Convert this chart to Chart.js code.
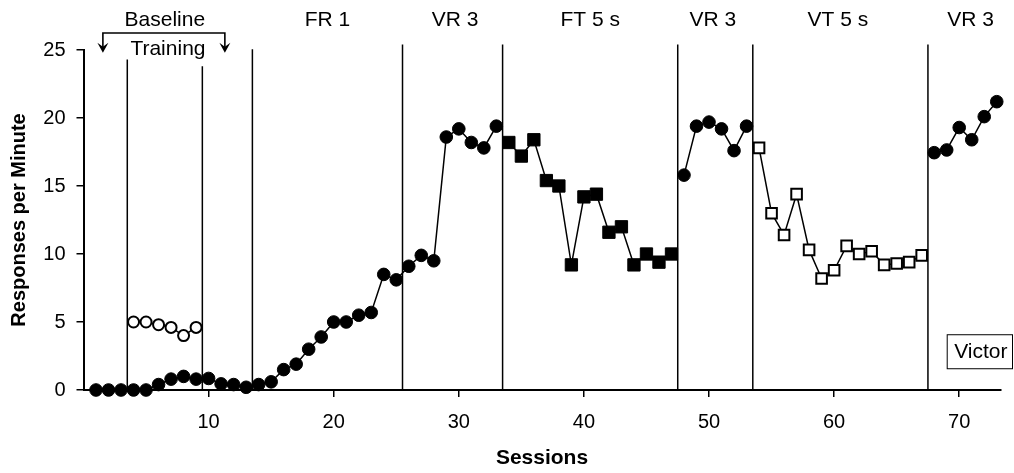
<!DOCTYPE html>
<html lang="en">
<head>
    <meta charset="UTF-8">
    <title>Victor - Responses per Minute</title>
    <script src="https://cdn.jsdelivr.net/npm/chart.js"></script>
    <style>
        html, body { margin: 0; padding: 0; background: #fff; }
        #wrap { width: 1014px; height: 473px; }
    </style>
</head>
<body>
    <div id="wrap"><canvas id="sessionsChart"></canvas></div>

    <script>
        // sessions 1..33, closed circles (baseline probes, FR 1, first VR 3)
        const baseSessions = [1,2,3,4,5,6,7,8,9,10,11,12,13,14,15,16,17,18,19,20,21,22,23,24,25,26,27,28,29,30,31,32,33];
        const baseValues = [0,0,0,0,0,0.4,0.8,1.0,0.8,0.85,0.45,0.4,0.2,0.4,0.6,1.5,1.9,3.0,3.9,5.0,5.0,5.5,5.7,8.5,8.1,9.1,9.9,9.5,18.6,19.2,18.2,17.8,19.4];

        // training sessions, open circles
        const trainSessions = [4,5,6,7,8,9];
        const trainValues = [5.0,5.0,4.8,4.6,4.0,4.6];

        // FT 5 s, filled squares
        const ftSessions = [34,35,36,37,38,39,40,41,42,43,44,45,46,47];
        const ftValues = [18.2,17.2,18.4,15.4,15.0,9.2,14.2,14.4,11.6,12.0,9.2,10.0,9.4,10.0];

        // second VR 3
        const vr2Sessions = [48,49,50,51,52,53];
        const vr2Values = [15.8,19.4,19.7,19.2,17.6,19.4];

        // VT 5 s, open squares
        const vtSessions = [54,55,56,57,58,59,60,61,62,63,64,65,66,67];
        const vtValues = [17.8,13.0,11.4,14.4,10.3,8.2,8.8,10.6,10.0,10.2,9.2,9.3,9.4,9.9];

        // third VR 3
        const vr3Sessions = [68,69,70,71,72,73];
        const vr3Values = [17.45,17.65,19.3,18.4,20.1,21.2];

        // phase change lines and their top ends
        const phaseLines = [3.5, 9.5, 13.5, 25.5, 33.5, 47.5, 53.5, 67.5];
        const phaseTops = [24.3, 23.8, 25.05, 25.4, 25.4, 25.4, 25.4, 25.4];

        const phaseNames = ['Baseline', 'FR 1', 'VR 3', 'FT 5 s', 'VR 3', 'VT 5 s', 'VR 3'];
        const phaseNameX = [6.5, 19.5, 29.7, 40.5, 50.3, 60.3, 70.9];

        const xTicks = [10, 20, 30, 40, 50, 60, 70];
        const yTicks = [0, 5, 10, 15, 20, 25];

        const FONT = '"Liberation Sans", Arial, sans-serif';

        function pts(xs, ys) { return xs.map((s, i) => ({ x: s, y: ys[i] })); }

        function series(xs, ys, style) {
            return Object.assign({
                data: pts(xs, ys),
                borderColor: '#000',
                pointBorderColor: '#000',
                borderWidth: 1.5,
                showLine: true,
                clip: false,
                order: 1
            }, style);
        }

        const closedCircle = { pointStyle: 'circle', pointRadius: 6.3, pointBorderWidth: 1, pointBackgroundColor: '#000' };
        const openCircle = { pointStyle: 'circle', pointRadius: 5.5, pointBorderWidth: 2, pointBackgroundColor: '#fff' };
        const filledSquare = { pointStyle: 'rect', pointRadius: 8.7, pointBorderWidth: 1, pointBackgroundColor: '#000' };
        const openSquare = { pointStyle: 'rect', pointRadius: 7.5, pointBorderWidth: 2, pointBackgroundColor: '#fff' };

        const datasets = [];
        phaseLines.forEach((p, i) => {
            datasets.push({
                data: [{ x: p, y: 0 }, { x: p, y: phaseTops[i] }],
                borderColor: '#000',
                borderWidth: 1.5,
                pointRadius: 0,
                showLine: true,
                clip: false,
                order: 5
            });
        });
        datasets.push(series(baseSessions, baseValues, closedCircle));
        datasets.push(series(trainSessions, trainValues, openCircle));
        datasets.push(series(ftSessions, ftValues, filledSquare));
        datasets.push(series(vr2Sessions, vr2Values, closedCircle));
        datasets.push(series(vtSessions, vtValues, openSquare));
        datasets.push(series(vr3Sessions, vr3Values, closedCircle));

        const annotations = {
            id: 'annotations',
            afterDraw(chart) {
                const ctx = chart.ctx;
                const x = chart.scales.x, y = chart.scales.y;
                ctx.save();
                ctx.fillStyle = '#000';
                ctx.strokeStyle = '#000';
                ctx.font = '21px ' + FONT;
                ctx.textAlign = 'center';
                ctx.textBaseline = 'middle';

                phaseNames.forEach((name, i) => {
                    ctx.fillText(name, x.getPixelForValue(phaseNameX[i]), y.getPixelForValue(27.2));
                });
                ctx.fillText('Training', x.getPixelForValue(6.75), y.getPixelForValue(25.05));

                // bracket with two down arrows
                const bx1 = x.getPixelForValue(1.55), bx2 = x.getPixelForValue(11.3);
                const by = y.getPixelForValue(26.25), tip = y.getPixelForValue(24.8);
                ctx.lineWidth = 1.6;
                ctx.beginPath();
                ctx.moveTo(bx1, tip - 2);
                ctx.lineTo(bx1, by);
                ctx.lineTo(bx2, by);
                ctx.lineTo(bx2, tip - 2);
                ctx.stroke();
                [bx1, bx2].forEach(bx => {
                    ctx.beginPath();
                    ctx.moveTo(bx - 5.5, tip - 10);
                    ctx.lineTo(bx, tip);
                    ctx.lineTo(bx + 5.5, tip - 10);
                    ctx.lineTo(bx, tip - 6);
                    ctx.closePath();
                    ctx.fill();
                });

                // subject name box
                const vx1 = x.getPixelForValue(69.0), vx2 = chart.width - 1;
                const vy1 = y.getPixelForValue(4.1), vy2 = y.getPixelForValue(1.6);
                ctx.lineWidth = 1;
                ctx.strokeRect(vx1 + 0.5, vy1 + 0.5, vx2 - vx1 - 1, vy2 - vy1);
                ctx.fillText('Victor', (vx1 + vx2) / 2 + 1, (vy1 + vy2) / 2 + 1);
                ctx.restore();
            }
        };

        const ctx = document.getElementById('sessionsChart').getContext('2d');
        const chart = new Chart(ctx, {
            type: 'scatter',
            data: { datasets: datasets },
            options: {
                responsive: true,
                maintainAspectRatio: false,
                animation: false,
                layout: { padding: { left: 0, right: 13.5, top: 50, bottom: 0 } },
                plugins: { legend: { display: false }, tooltip: { enabled: false } },
                scales: {
                    x: {
                        type: 'linear',
                        min: 0,
                        max: 73.3,
                        afterBuildTicks: s => { s.ticks = xTicks.map(v => ({ value: v })); },
                        afterFit: s => { s.height = 83; },
                        grid: { drawOnChartArea: false, drawTicks: true, tickLength: 7, color: '#000', lineWidth: 1.5 },
                        border: { display: true, color: '#000', width: 2 },
                        ticks: { color: '#000', font: { family: FONT, size: 20 }, padding: 13, maxRotation: 0 },
                        title: { display: true, text: 'Sessions', color: '#000', font: { family: FONT, size: 21, weight: 'bold' }, padding: { top: 0, bottom: 2.5 } }
                    },
                    y: {
                        min: 0,
                        max: 25,
                        afterBuildTicks: s => { s.ticks = yTicks.map(v => ({ value: v })); },
                        afterFit: s => { s.width = 83.5; },
                        grid: { drawOnChartArea: false, drawTicks: true, tickLength: 7, color: '#000', lineWidth: 1.5 },
                        border: { display: true, color: '#000', width: 2 },
                        ticks: { color: '#000', font: { family: FONT, size: 20 }, padding: 11 },
                        title: { display: true, text: 'Responses per Minute', color: '#000', font: { family: FONT, size: 20, weight: 'bold' }, padding: { top: 7, bottom: 0 } }
                    }
                }
            },
            plugins: [annotations]
        });
    </script>
</body>
</html>
